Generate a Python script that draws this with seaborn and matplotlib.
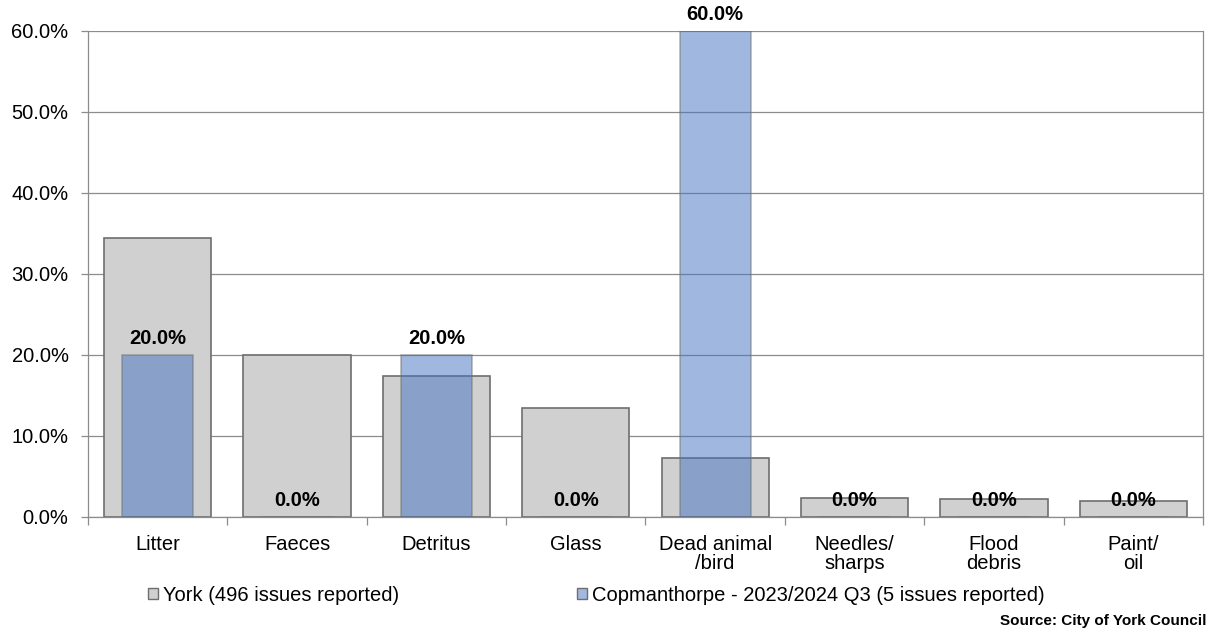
import matplotlib
matplotlib.use("Agg")
import matplotlib.pyplot as plt
import seaborn as sns
import pandas as pd
from matplotlib.patches import Patch
from matplotlib.ticker import FuncFormatter, FixedLocator

# ---------- DATA ----------
categories = ["Litter", "Faeces", "Detritus", "Glass", "Dead animal\n/bird",
              "Needles/\nsharps", "Flood\ndebris", "Paint/\noil"]
york_pct = [34.4, 20.0, 17.4, 13.5, 7.3, 2.3, 2.2, 2.0]
copman_pct = [20.0, 0.0, 20.0, 0.0, 60.0, 0.0, 0.0, 0.0]
york_label = "York (496 issues reported)"
copman_label = "Copmanthorpe - 2023/2024 Q3 (5 issues reported)"
source_text = "Source: City of York Council"

df = pd.DataFrame({"category": categories, "york": york_pct, "copman": copman_pct})

sns.set_theme(style="white")
plt.rcParams["font.family"] = ["Liberation Sans", "DejaVu Sans"]
plt.rcParams["text.color"] = "black"
plt.rcParams["xtick.color"] = "black"
plt.rcParams["ytick.color"] = "black"

GREY = "#d0d0d0"
BLUE = "#4373c3"
EDGE = "#6e6e6e"
GRID = "#8c8c8c"
FS = 14.5

fig = plt.figure(figsize=(12.1, 6.31), dpi=100)
ax = fig.add_axes([0.0727, 0.1807, 0.9215, 0.7702])

sns.barplot(data=df, x="category", y="york", color=GREY, saturation=1,
            width=0.77, edgecolor=EDGE, linewidth=1.2, ax=ax, zorder=2)
sns.barplot(data=df, x="category", y="copman", color=BLUE, saturation=1,
            width=0.51, edgecolor=EDGE, linewidth=1.2, alpha=0.5, ax=ax, zorder=3)

# value labels for Copmanthorpe
for i, v in enumerate(copman_pct):
    ax.annotate(f"{v:.1f}%", (i, v), xytext=(0, 5), textcoords="offset points",
                ha="center", va="bottom", fontsize=FS, fontweight="bold",
                color="black", annotation_clip=False, zorder=5)

ax.set_ylim(0, 60)
ax.set_xlim(-0.5, len(categories) - 0.5)
ax.set_yticks(range(0, 61, 10))
ax.yaxis.set_major_formatter(FuncFormatter(lambda v, _: f"{v:.1f}%"))
ax.yaxis.grid(True, color=GRID, linewidth=0.9, zorder=0)
ax.set_axisbelow(True)
ax.set_xlabel("")
ax.set_ylabel("")

ax.tick_params(axis="y", which="major", left=True, length=5, width=0.9,
               color=GRID, labelsize=FS, pad=9)
ax.tick_params(axis="x", which="major", bottom=False, labelsize=FS, pad=7)
for lbl in ax.get_xticklabels():
    lbl.set_linespacing(1.0)
ax.xaxis.set_minor_locator(FixedLocator([i - 0.5 for i in range(len(categories) + 1)]))
ax.tick_params(axis="x", which="minor", bottom=True, length=6, width=0.9, color=GRID)

for side, sp in ax.spines.items():
    sp.set_visible(side != "top")
    sp.set_color(GRID)
    sp.set_linewidth(0.9)

handles = [Patch(facecolor=GREY, edgecolor=EDGE, label=york_label),
           Patch(facecolor="#a1b9e1", edgecolor=EDGE, label=copman_label)]
fig.legend(handles=handles, loc="center left", bbox_to_anchor=(0.122, 0.057),
           ncol=2, frameon=False, fontsize=FS, handlelength=0.5, handleheight=0.5,
           handletextpad=0.25, columnspacing=8.85, borderaxespad=0, borderpad=0)

fig.text(0.997, 0.004, source_text, fontsize=11, fontweight="bold",
         ha="right", va="bottom")

fig.savefig("out.png", dpi=100)
